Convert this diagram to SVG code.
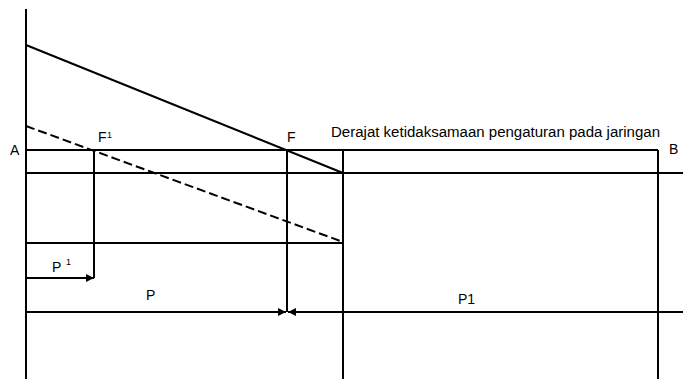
<svg xmlns="http://www.w3.org/2000/svg" width="683" height="379" viewBox="0 0 683 379">
<style>
.l{stroke:#000;stroke-width:2;fill:none}
.d{stroke:#000;stroke-width:2;fill:none;stroke-dasharray:9 4}
.t{font-family:"Liberation Sans",Arial,sans-serif;font-size:14px;fill:#000}
.s{font-family:"Liberation Sans",Arial,sans-serif;font-size:9px;fill:#000}
</style>
<defs>
<marker id="ah" viewBox="0 0 10 10" refX="10" refY="5" markerWidth="8" markerHeight="8" markerUnits="userSpaceOnUse" orient="auto">
<path d="M0,0 L10,5 L0,10 z" fill="#000"/>
</marker>
</defs>
<rect width="683" height="379" fill="#fff"/>
<g id="connectors">
<line class="l" x1="26" y1="9" x2="26" y2="379"/>
<line class="l" x1="26" y1="45" x2="343" y2="173"/>
<line class="d" x1="26" y1="126" x2="343" y2="242"/>
<line class="l" x1="26" y1="150" x2="658" y2="150"/>
<line class="l" x1="26" y1="173" x2="683" y2="173"/>
<line class="l" x1="658" y1="150" x2="658" y2="379"/>
<line class="l" x1="343" y1="150" x2="343" y2="379"/>
<line class="l" x1="94" y1="150" x2="94" y2="278"/>
<line class="l" x1="287" y1="150" x2="287" y2="312"/>
<line class="l" x1="26" y1="243" x2="343" y2="243"/>
<line class="l" x1="26" y1="278" x2="94" y2="278" marker-end="url(#ah)"/>
<line class="l" x1="26" y1="312" x2="286" y2="312" marker-end="url(#ah)"/>
<line class="l" x1="683" y1="312" x2="288" y2="312" marker-end="url(#ah)"/>
</g>
<g id="label-A"><text class="t" x="10" y="155">A</text></g>
<g id="label-B"><text class="t" x="669" y="154">B</text></g>
<g id="label-F1"><text class="t" x="98" y="142">F</text><text class="s" x="107" y="138">1</text></g>
<g id="label-F"><text class="t" x="287" y="142">F</text></g>
<g id="label-title"><text class="t" x="331" y="137" textLength="329" lengthAdjust="spacingAndGlyphs" font-size="13">Derajat ketidaksamaan pengaturan pada jaringan</text></g>
<g id="label-P1sup"><text class="t" x="52" y="272">P</text><text class="s" x="66" y="265">1</text></g>
<g id="label-P"><text class="t" x="146" y="300">P</text></g>
<g id="label-P1"><text class="t" x="458" y="304">P1</text></g>
</svg>
